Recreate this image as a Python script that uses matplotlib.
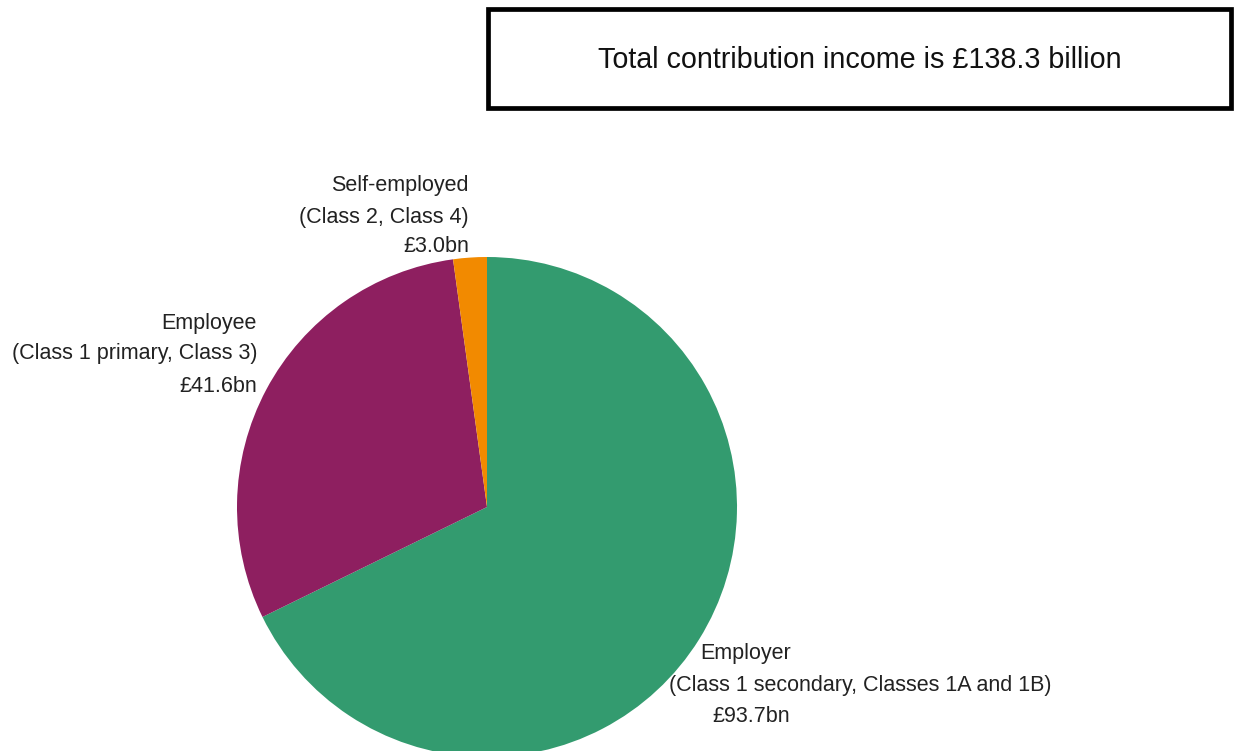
import matplotlib
matplotlib.use("Agg")
from matplotlib import pyplot as plt
from matplotlib.patches import Rectangle

plt.rcParams['font.family'] = ['Liberation Sans', 'DejaVu Sans']

# contribution income by payer, £bn
groups = ['Employer', 'Employee', 'Self-employed']
classes = ['(Class 1 secondary, Classes 1A and 1B)',
           '(Class 1 primary, Class 3)',
           '(Class 2, Class 4)']
income = [93.7, 41.6, 3.0]
colours = ['#339b6f', '#8e1f60', '#f28a00']
total = 138.3

W, H = 1235, 751
fig = plt.figure(figsize=(W / 100, H / 100), dpi=100)

# pie axes: unit radius spans 250 px, centre at (487, 507)
cx, cy, r = 487, 507, 250
ax = fig.add_axes([(cx - r) / W, (H - cy - r) / H, 2 * r / W, 2 * r / H])
ax.pie(income, colors=colours, startangle=90, counterclock=False,
       wedgeprops=dict(linewidth=0))
ax.set_xlim(-1, 1)
ax.set_ylim(-1, 1)
ax.set_aspect('equal')
ax.axis('off')


def px(x, y):
    # pixel position -> pie data units
    return (x - cx) / r, (cy - y) / r


# label lines: (x, y, ha) per line
label_pos = {
    'Employer': [(700, 654, 'left'), (669, 686, 'left'), (712, 717, 'left')],
    'Employee': [(257, 324, 'right'), (257, 354, 'right'), (257, 386, 'right')],
    'Self-employed': [(469, 186, 'right'), (469, 217, 'right'), (469, 247, 'right')],
}
for g, c, v in zip(groups, classes, income):
    lines = [g, c, '£%.1fbn' % v]
    for txt, (x, y, ha) in zip(lines, label_pos[g]):
        dx, dy = px(x, y)
        ax.text(dx, dy, txt, ha=ha, va='center', fontsize=15.5,
                color='#222222', clip_on=False)

# total box
fig.patches.append(Rectangle((488 / W, (H - 108) / H), 743 / W, 99 / H,
                             transform=fig.transFigure, fill=False,
                             edgecolor='black', linewidth=3.4))
fig.text(860 / W, (H - 60) / H,
         'Total contribution income is £%.1f billion' % total,
         ha='center', va='center', fontsize=20.7, color='#111111')

fig.savefig('out.png', dpi=100, facecolor='white')
